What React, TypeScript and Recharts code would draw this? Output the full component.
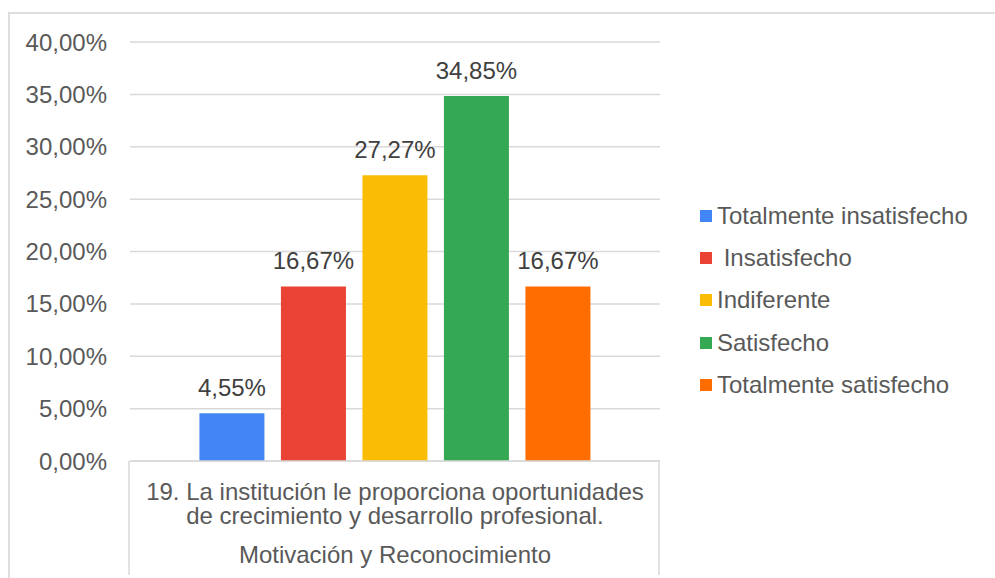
import React from 'react'
import {
  BarChart,
  Bar,
  XAxis,
  YAxis,
  CartesianGrid,
  LabelList,
} from 'recharts'

const categories = [
  '19. La institución le proporciona oportunidades de crecimiento y desarrollo profesional.',
]
const groupLabels = ['Motivación y Reconocimiento']
const seriesNames = [
  'Totalmente insatisfecho',
  ' Insatisfecho',
  'Indiferente',
  'Satisfecho',
  'Totalmente satisfecho',
]
const totalmenteInsatisfecho = [4.55]
const insatisfecho = [16.67]
const indiferente = [27.27]
const satisfecho = [34.85]
const totalmenteSatisfecho = [16.67]
const yTicks = [0, 5, 10, 15, 20, 25, 30, 35, 40]

const seriesValues = [
  totalmenteInsatisfecho,
  insatisfecho,
  indiferente,
  satisfecho,
  totalmenteSatisfecho,
]
const colors = ['#4285F4', '#EA4335', '#FBBC04', '#34A853', '#FF6D01']

const FONT = '"Liberation Sans", Arial, sans-serif'
const GRID = '#d9d9d9'

const data = categories.map((cat, i) => {
  const row: Record<string, string | number> = { pregunta: cat, grupo: groupLabels[i] }
  seriesValues.forEach((vals, s) => {
    row['s' + s] = vals[i]
  })
  return row
})

const pct = (v: number) => v.toFixed(2).replace('.', ',') + '%'

function wrap(text: string, maxChars: number) {
  const lines: string[] = []
  let cur = ''
  text.split(' ').forEach((w) => {
    const next = cur ? cur + ' ' + w : w
    if (next.length > maxChars && cur) {
      lines.push(cur)
      cur = w
    } else {
      cur = next
    }
  })
  if (cur) lines.push(cur)
  return lines
}

function CategoryTick(props: any) {
  const { x, y, payload, index } = props
  const half = payload.offset || 265
  const lines = wrap(String(payload.value), 48)
  return (
    <g>
      <line x1={x - half - 1} y1={y} x2={x - half - 1} y2={y + 114} stroke={GRID} strokeWidth={1.5} />
      <line x1={x + half - 1} y1={y} x2={x + half - 1} y2={y + 114} stroke={GRID} strokeWidth={1.5} />
      {lines.map((l, i) => (
        <text key={i} x={x} y={y + 39 + i * 24} textAnchor="middle" fontSize={24} fill="#595959" fontFamily={FONT}>
          {l}
        </text>
      ))}
      <text x={x} y={y + 101.5} textAnchor="middle" fontSize={24} fill="#595959" fontFamily={FONT}>
        {groupLabels[index ?? 0]}
      </text>
    </g>
  )
}

function SeriesLegend() {
  return (
    <div style={{ position: 'absolute', left: 700, top: 195, fontFamily: FONT, fontSize: 24, color: '#595959' }}>
      {seriesNames.map((name, s) => (
        <div key={name} style={{ height: 42.2, display: 'flex', alignItems: 'center', whiteSpace: 'pre' }}>
          <span style={{ display: 'inline-block', width: 12, height: 12, background: colors[s], marginRight: 5 }} />
          <span>{name}</span>
        </div>
      ))}
    </div>
  )
}

export default function App() {
  return (
    <div style={{ position: 'absolute', left: 0, top: 0, width: 995, height: 578, overflow: 'hidden', background: '#fff' }}>
      <div
        style={{
          position: 'absolute',
          left: 8,
          top: 12,
          width: 1100,
          height: 700,
          border: '2px solid #dedede',
        }}
      />
      <div style={{ position: 'absolute', left: 0, top: 0 }}>
        <BarChart
          width={995}
          height={578}
          data={data}
          margin={{ top: 42, right: 335, bottom: 0, left: 0 }}
          barCategoryGap="13.1%"
          barGap={16.5}
        >
          <CartesianGrid vertical={false} stroke={GRID} strokeWidth={1.5} />
          <XAxis
            dataKey="pregunta"
            height={117}
            tickSize={0}
            tickMargin={0}
            axisLine={{ stroke: GRID, strokeWidth: 1.5 }}
            tickLine={false}
            tick={<CategoryTick />}
            interval={0}
          />
          <YAxis
            width={130}
            domain={[0, 40]}
            ticks={yTicks}
            tickFormatter={pct}
            axisLine={false}
            tickLine={false}
            tickSize={0}
            tickMargin={23}
            tick={{ fontSize: 24, fill: '#595959', fontFamily: FONT }}
          />
          {seriesNames.map((name, s) => (
            <Bar key={name} dataKey={'s' + s} name={name} fill={colors[s]} isAnimationActive={false}>
              <LabelList
                dataKey={'s' + s}
                position="top"
                offset={17}
                formatter={(v: any) => pct(Number(v))}
                style={{ fontSize: 24, fill: '#404040', fontFamily: FONT }}
              />
            </Bar>
          ))}
        </BarChart>
      </div>
      <SeriesLegend />
    </div>
  )
}
